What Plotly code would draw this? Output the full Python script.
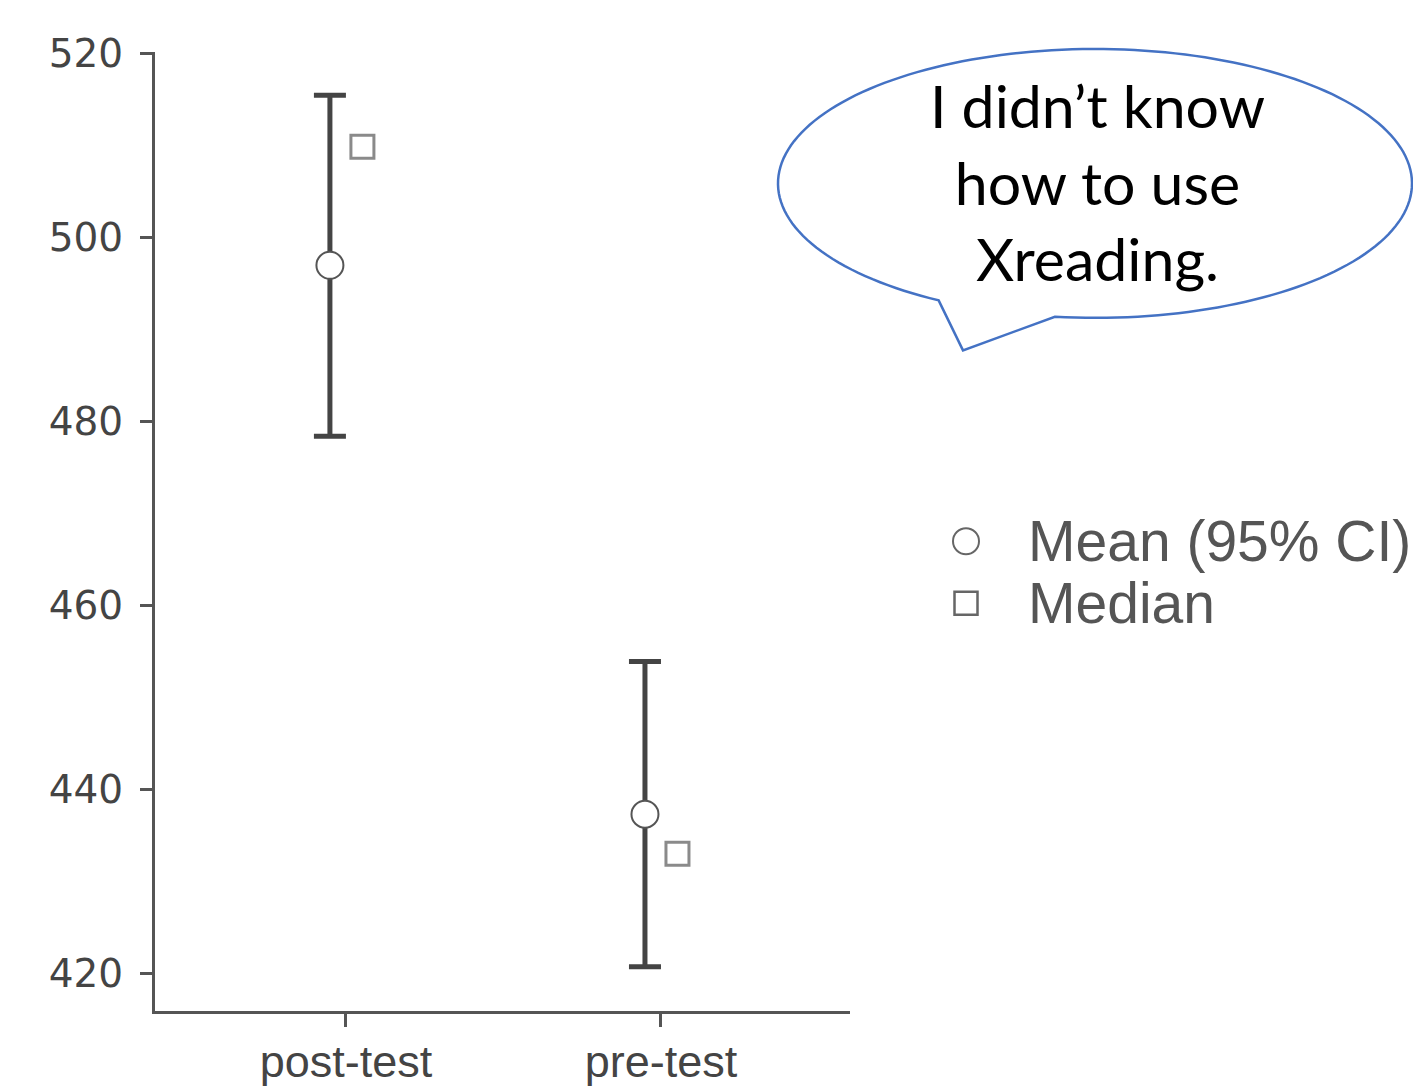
import math
import plotly.graph_objects as go

# ---- data ----
categories = ["post-test", "pre-test"]
mean_vals = [497.0, 437.3]
ci_upper = [515.5, 453.9]
ci_lower = [478.4, 420.7]
median_vals = [509.9, 433.0]
y_ticks = [420, 440, 460, 480, 500, 520]
legend_labels = ["Mean (95% CI)", "Median"]
bubble_text = ["I didn\u2019t know", "how to use", "Xreading."]

# ---- layout geometry (reference-pixel coords; page body has an 8px margin) ----
OFF = 8
W, H = 1421 - OFF, 1087 - OFF
PLOT_L, PLOT_T, PLOT_B = 155, 51.5, 1011          # in reference pixels
ML = PLOT_L - OFF
MT = PLOT_T - OFF
MB = H - (PLOT_B - OFF)
MR = 0
PW = W - ML - MR
PH = PLOT_B - PLOT_T


def px(x):
    return (x - PLOT_L) / PW


def py(y):
    return (PLOT_B - y) / PH


xpos = list(range(len(categories)))
off_mean = -16 / 315
off_med = 16.5 / 315

fig = go.Figure()

fig.add_trace(go.Scatter(
    x=[v + off_mean for v in xpos], y=mean_vals, mode="markers",
    name=legend_labels[0], showlegend=False,
    marker=dict(symbol="circle", size=27, color="white",
                line=dict(color="#555555", width=2)),
    error_y=dict(type="data", symmetric=False,
                 array=[u - m for u, m in zip(ci_upper, mean_vals)],
                 arrayminus=[m - l for m, l in zip(mean_vals, ci_lower)],
                 color="#444444", thickness=5, width=16),
))
fig.add_trace(go.Scatter(
    x=[v + off_med for v in xpos], y=median_vals, mode="markers",
    name=legend_labels[1], showlegend=False,
    marker=dict(symbol="square", size=23, color="white",
                line=dict(color="#8a8a8a", width=3)),
))

# ---- speech bubble ----
cx, cy, rx, ry = 1095, 183, 317, 134.5
t_right = math.atan2((316 - cy) / ry, (1055 - cx) / rx)
t_left = math.atan2((299 - cy) / ry, (940 - cx) / rx) - 2 * math.pi
n = 180
pts = []
for i in range(n + 1):
    t = t_right + (t_left - t_right) * i / n
    pts.append((cx + rx * math.cos(t), cy + ry * math.sin(t)))
pts.append((963, 350))
path = "M " + " L ".join(f"{px(a):.5f},{py(b):.5f}" for a, b in pts) + " Z"
fig.add_shape(type="path", xref="paper", yref="paper", path=path,
              line=dict(color="#4472C4", width=2.5), fillcolor="white", layer="above")

fig.add_annotation(xref="paper", yref="paper", x=px(1097), y=py(182),
                   text="<br>".join(bubble_text), showarrow=False,
                   xanchor="center", yanchor="middle", align="center",
                   font=dict(family="Lato", size=59, color="black"))

# ---- manual legend ----
leg_y = [541, 603]
fig.add_shape(type="circle", xref="paper", yref="paper",
              x0=px(966 - 13), x1=px(966 + 13), y0=py(541 + 13), y1=py(541 - 13),
              line=dict(color="#666666", width=2), fillcolor="white")
fig.add_shape(type="rect", xref="paper", yref="paper",
              x0=px(966 - 11.5), x1=px(966 + 11.5), y0=py(603 + 11.5), y1=py(603 - 11.5),
              line=dict(color="#666666", width=2.5), fillcolor="white")
for lab, yy in zip(legend_labels, leg_y):
    fig.add_annotation(xref="paper", yref="paper", x=px(1026), y=py(yy),
                       text=lab, showarrow=False, xanchor="left", yanchor="middle",
                       font=dict(family="Liberation Sans", size=57, color="#555555"))

fig.update_layout(
    width=W, height=H,
    margin=dict(l=ML, r=MR, t=MT, b=MB, pad=0),
    paper_bgcolor="white", plot_bgcolor="white",
    showlegend=False,
    xaxis=dict(domain=[0, 695 / PW], range=[-0.606, 1.6], automargin=False,
               tickvals=xpos, ticktext=categories,
               showline=True, linecolor="#555555", linewidth=3,
               ticks="outside", ticklen=13, tickwidth=3, tickcolor="#555555",
               showgrid=False, zeroline=False, ticklabelstandoff=-4,
               tickfont=dict(family="Liberation Sans", size=45, color="#444444")),
    yaxis=dict(range=[415.9, 520.2], tickvals=y_ticks, automargin=False,
               showline=True, linecolor="#555555", linewidth=3,
               ticks="outside", ticklen=12, tickwidth=3, tickcolor="#555555",
               showgrid=False, zeroline=False, ticklabelstandoff=9,
               tickfont=dict(family="DejaVu Sans", size=39, color="#444444")),
)

fig.write_html("out.html")
